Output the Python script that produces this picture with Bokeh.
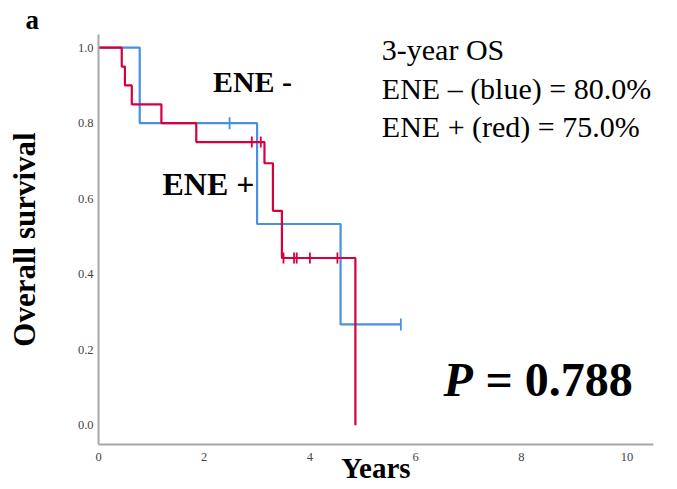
import math
from bokeh.plotting import figure
from bokeh.models import Label, FixedTicker, NumeralTickFormatter, Title
from bokeh.embed import file_html
from bokeh.resources import INLINE

# ENE - (blue)
blue_t = [0.0, 0.78, 3.0, 4.58, 5.72]
blue_s = [1.0, 0.8, 0.533, 0.267, 0.267]
blue_cens_t = [2.48, 5.72]
blue_cens_s = [0.8, 0.267]

# ENE + (red)
red_t = [0.0, 0.44, 0.50, 0.63, 1.19, 1.85, 3.14, 3.30, 3.47, 4.86]
red_s = [1.0, 0.95, 0.90, 0.85, 0.80, 0.75, 0.694, 0.568, 0.443, 0.0]
red_cens_t = [2.90, 3.07, 3.50, 3.70, 3.75, 4.00, 4.52]
red_cens_s = [0.75, 0.75, 0.443, 0.443, 0.443, 0.443, 0.443]

x_ticks = [0, 2, 4, 6, 8, 10]
y_ticks = [0.0, 0.2, 0.4, 0.6, 0.8, 1.0]

BLUE = "#4a90e2"
RED = "#d6003c"
SERIF = "Liberation Serif"

p = figure(width=677, height=489, x_range=(0, 10.5), y_range=(-0.051, 1.035),
           output_backend="svg", toolbar_location=None,
           min_border_left=98, min_border_right=24, min_border_top=34, min_border_bottom=45)
p.outline_line_color = None
p.grid.visible = False
p.background_fill_color = "white"
p.border_fill_color = "white"

p.add_layout(Title(text="a", align="left", offset=-73, standoff=0, text_font=SERIF,
                   text_font_size="27px", text_font_style="bold", text_color="black"), "above")

for ax in (p.xaxis[0], p.yaxis[0]):
    ax.axis_line_color = "#a8a8a8"
    ax.axis_line_width = 2
    ax.major_tick_line_color = None
    ax.minor_tick_line_color = None
    ax.major_tick_out = 0
    ax.major_tick_in = 0
    ax.major_label_text_font = SERIF
    ax.major_label_text_font_size = "12.5px"
    ax.major_label_text_color = "#444444"
    ax.axis_label_text_font = SERIF
    ax.axis_label_text_font_style = "bold"
    ax.axis_label_text_color = "black"

p.xaxis.ticker = FixedTicker(ticks=x_ticks)
p.yaxis.ticker = FixedTicker(ticks=y_ticks)
p.yaxis.formatter = NumeralTickFormatter(format="0.0")
p.xaxis.major_label_standoff = 8
p.yaxis.major_label_standoff = 5

p.xaxis.axis_label = "Years"
p.xaxis.axis_label_text_font_size = "29px"
p.xaxis.axis_label_standoff = -12
p.yaxis.axis_label = "Overall survival"
p.yaxis.axis_label_text_font_size = "31px"
p.yaxis.axis_label_standoff = 33

p.step(blue_t, blue_s, mode="after", line_color=BLUE, line_width=2.2)
p.scatter(blue_cens_t, blue_cens_s, marker="dash", angle=math.pi / 2, size=12,
          line_color=BLUE, line_width=1.8)
p.step(red_t, red_s, mode="after", line_color=RED, line_width=2.2)
p.scatter(red_cens_t, red_cens_s, marker="dash", angle=math.pi / 2, size=11,
          line_color=RED, line_width=1.8)

def lab(x, y, text, size, style="normal", align="left"):
    p.add_layout(Label(x=x, y=y, text=text, text_font=SERIF, text_font_size=size,
                       text_font_style=style, text_align=align,
                       text_baseline="alphabetic", text_color="black"))

lab(5.36, 0.994, "3-year OS", "30px")
lab(5.36, 0.892, "ENE \u2013 (blue) = 80.0%", "30px")
lab(5.36, 0.791, "ENE + (red) = 75.0%", "30px")
lab(2.165, 0.910, "ENE -", "30px", "bold")
lab(1.21, 0.640, "ENE +", "32px", "bold")
lab(6.527, 0.121, "P", "48px", "bold italic")
lab(7.321, 0.121, "= 0.788", "48px", "bold")

open("out.html", "w").write(file_html(p, INLINE))
